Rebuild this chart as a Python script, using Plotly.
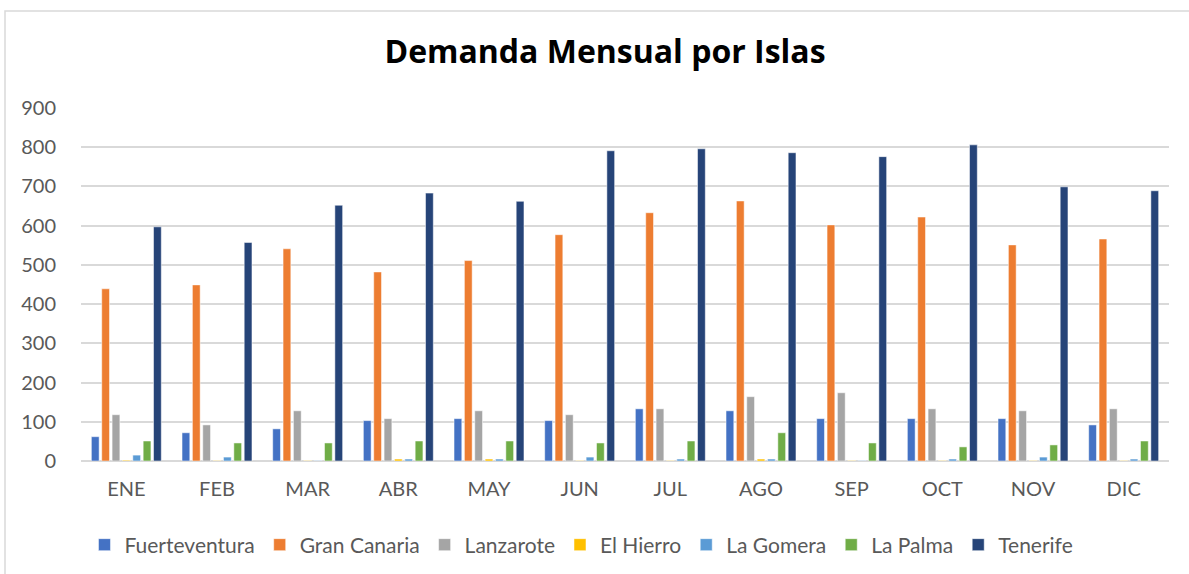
import plotly.graph_objects as go

meses = ["ENE", "FEB", "MAR", "ABR", "MAY", "JUN", "JUL", "AGO", "SEP", "OCT", "NOV", "DIC"]

fuerteventura = [62, 72, 82, 103, 108, 103, 133, 128, 108, 108, 108, 92]
gran_canaria = [439, 449, 541, 482, 511, 577, 633, 663, 602, 622, 551, 566]
lanzarote = [118, 92, 128, 108, 128, 118, 133, 164, 174, 133, 128, 133]
el_hierro = [2, 1, 1, 5, 5, 1, 1, 5, 1, 1, 1, 1]
la_gomera = [15, 10, 1, 5, 5, 10, 5, 5, 1, 5, 10, 5]
la_palma = [51, 46, 46, 51, 51, 46, 51, 72, 46, 36, 41, 51]
tenerife = [597, 557, 652, 683, 662, 791, 796, 786, 776, 806, 699, 689]

series = [
    ("Fuerteventura", fuerteventura, "#4472C4"),
    ("Gran Canaria", gran_canaria, "#ED7D31"),
    ("Lanzarote", lanzarote, "#A5A5A5"),
    ("El Hierro", el_hierro, "#FFC000"),
    ("La Gomera", la_gomera, "#5B9BD5"),
    ("La Palma", la_palma, "#70AD47"),
    ("Tenerife", tenerife, "#264478"),
]

y_ticks = [0, 100, 200, 300, 400, 500, 600, 700, 800, 900]

fig = go.Figure()
for name, vals, color in series:
    fig.add_trace(go.Bar(
        x=meses, y=vals, name=name,
        marker=dict(color=color, line=dict(color="white", width=0.5)),
    ))

FONT = "Lato, 'Open Sans', sans-serif"
W, H = 1189, 574
L, R, T, B = 81, 1169, 108, 461
pw, ph = R - L, B - T

fig.update_layout(
    width=W, height=H,
    margin=dict(l=L, r=W - R, t=T, b=H - B, autoexpand=False),
    paper_bgcolor="white", plot_bgcolor="white",
    barmode="group", bargap=0.2, bargroupgap=0.25,
    font=dict(family=FONT, color="#595959", size=20),
    title=dict(
        text="<b>Demanda Mensual por Islas</b>",
        font=dict(family="'Open Sans', sans-serif", size=32, color="black"),
        x=605 / W, xanchor="center",
        y=1 - 52 / H, yanchor="middle",
    ),
    xaxis=dict(
        showgrid=False, showline=False, ticks="", automargin=False,
        ticklabelstandoff=14,
        tickfont=dict(size=20, color="#595959"),
    ),
    yaxis=dict(
        range=[0, 900], tickvals=y_ticks, ticktext=[str(v) for v in y_ticks],
        showgrid=True, gridcolor="#D9D9D9", gridwidth=1.5,
        zeroline=True, zerolinecolor="#D9D9D9", zerolinewidth=1.5,
        showline=False, ticks="", ticklabelstandoff=24, automargin=False,
        tickfont=dict(size=20, color="#595959"),
    ),
    legend=dict(
        orientation="h", x=0.46, xanchor="center",
        y=-(545 - B) / ph, yanchor="middle",
        font=dict(size=21, color="#595959"),
        itemwidth=30, tracegroupgap=0,
    ),
    shapes=[dict(
        type="rect", xref="paper", yref="paper",
        x0=(5 - L) / pw, x1=(1200 - L) / pw,
        y0=(B - 590) / ph, y1=(B - 11) / ph,
        line=dict(color="#D9D9D9", width=1.5), fillcolor="rgba(0,0,0,0)",
        layer="below",
    )],
)

fig.write_html(
    "out.html",
    config={"displayModeBar": False},
    post_script="document.body.style.margin='0';document.body.style.overflow='hidden';",
)
